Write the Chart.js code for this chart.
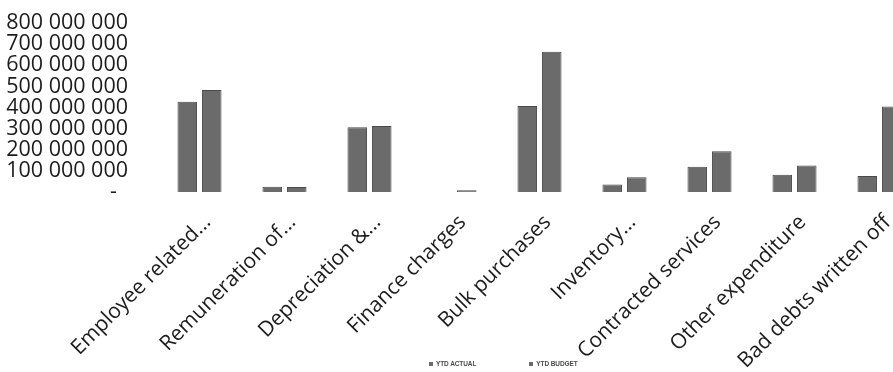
<!DOCTYPE html>
<html>
<head>
<meta charset="utf-8">
<script src="https://cdn.jsdelivr.net/npm/chart.js@4/dist/chart.umd.min.js"></script>
<style>
  html, body { margin: 0; padding: 0; background: #ffffff; overflow: hidden; }
  #wrap { position: relative; width: 893px; height: 372px; overflow: hidden; }
  #box { position: absolute; left: 0; top: 0; width: 930px; height: 372px; }
  #legend { position: absolute; left: 429px; top: 360px; display: flex; align-items: center;
            font-family: "Liberation Sans", Arial, sans-serif; font-weight: bold; font-size: 6.5px;
            color: #4a4a4a; letter-spacing: -0.1px; }
  #legend .item { display: flex; align-items: center; margin-right: 53px; white-space: nowrap; }
  #legend .sw { width: 4px; height: 4px; margin-right: 3px; }
</style>
</head>
<body>
<div id="wrap">
  <div id="box"><canvas id="chart"></canvas></div>
  <div id="legend"></div>
</div>
<script>
// Expenditure categories (x axis)
const categories = [
  "Employee related...",
  "Remuneration of...",
  "Depreciation &...",
  "Finance charges",
  "Bulk purchases",
  "Inventory...",
  "Contracted services",
  "Other expenditure",
  "Bad debts written off"
];

// Year-to-date figures
const ytdActual = [427000000, 25000000, 307000000, 0, 407000000, 35000000, 120000000, 82000000, 76000000];
const ytdBudget = [483000000, 24000000, 313000000, 8000000, 664000000, 70000000, 193000000, 126000000, 405000000];

const seriesNames = ["YTD ACTUAL", "YTD BUDGET"];

// Value axis
const yMin = 0;
const yMax = 800000000;
const yStep = 100000000;

function formatAmount(v) {
  if (v === 0) return "-  ";
  return String(Math.round(v)).replace(/\B(?=(\d{3})+(?!\d))/g, " ");
}

const barFill = "#6b6b6b";
const barEdge = "#4a4a4a";
const textColor = "#1c1c1c";

const chart = new Chart(document.getElementById("chart"), {
  type: "bar",
  data: {
    labels: categories,
    datasets: [
      { label: seriesNames[0], data: ytdActual, backgroundColor: barFill, borderColor: barEdge, borderWidth: 1 },
      { label: seriesNames[1], data: ytdBudget, backgroundColor: barFill, borderColor: barEdge, borderWidth: 1 }
    ]
  },
  options: {
    responsive: true,
    maintainAspectRatio: false,
    animation: false,
    layout: { padding: { top: 23, right: 8, bottom: 0, left: 0 } },
    datasets: { bar: { categoryPercentage: 0.576, barPercentage: 0.8 } },
    plugins: {
      legend: { display: false },
      tooltip: { enabled: false }
    },
    scales: {
      x: {
        grid: { display: false, drawTicks: false },
        border: { display: false },
        ticks: {
          autoSkip: false,
          minRotation: 45,
          maxRotation: 45,
          padding: 18,
          labelOffset: 8,
          color: textColor,
          font: { family: "'Open Sans', sans-serif", size: 21 }
        },
        afterFit(scale) {
          scale.height = 180;
          scale.paddingLeft = 0;
          scale.paddingRight = 0;
        }
      },
      y: {
        min: yMin,
        max: yMax,
        grid: { display: false, drawTicks: false },
        border: { display: false },
        ticks: {
          stepSize: yStep,
          autoSkip: false,
          padding: 29,
          color: textColor,
          font: { family: "'Open Sans', sans-serif", size: 21.5 },
          callback: (v) => formatAmount(v)
        },
        afterFit(scale) {
          scale.width = 157;
          scale.paddingTop = 0;
          scale.paddingBottom = 0;
        }
      }
    }
  }
});

// Legend rendered as HTML from the chart's own legend items
const legendEl = document.getElementById("legend");
Chart.defaults.plugins.legend.labels.generateLabels(chart).forEach((item) => {
  const row = document.createElement("div");
  row.className = "item";
  const sw = document.createElement("span");
  sw.className = "sw";
  sw.style.background = item.fillStyle;
  const txt = document.createElement("span");
  txt.textContent = item.text;
  row.appendChild(sw);
  row.appendChild(txt);
  legendEl.appendChild(row);
});
</script>
</body>
</html>
